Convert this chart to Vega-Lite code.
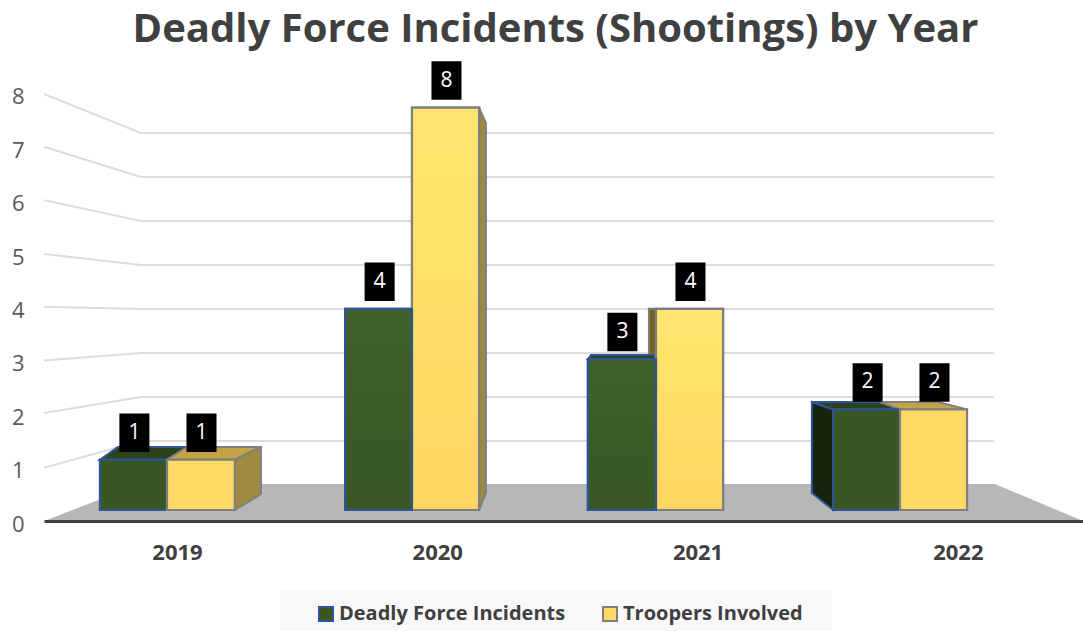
{
"$schema":"https://vega.github.io/schema/vega-lite/v6.json",
"width":1039,"height":461,
"autosize":{"type":"none"},
"padding":{"left":44,"top":60,"right":0,"bottom":110},
"background":"white",
"title":{"text":"Deadly Force Incidents (Shootings) by Year","font":"Open Sans","fontSize":40,"fontWeight":"bold","color":"#404040","anchor":"middle","dx":-8,"offset":10},
"config":{"view":{"stroke":null},"font":"Open Sans"},
"datasets":{
"bars":[
{"year":2019,"series":"Deadly Force Incidents","count":1,"pos":2018.725,"pos2":2019},
{"year":2019,"series":"Troopers Involved","count":1,"pos":2019,"pos2":2019.278},
{"year":2020,"series":"Deadly Force Incidents","count":4,"pos":2019.73,"pos2":2020.004},
{"year":2020,"series":"Troopers Involved","count":8,"pos":2020.004,"pos2":2020.279},
{"year":2021,"series":"Deadly Force Incidents","count":3,"pos":2020.725,"pos2":2021.004},
{"year":2021,"series":"Troopers Involved","count":4,"pos":2021.004,"pos2":2021.279},
{"year":2022,"series":"Deadly Force Incidents","count":2,"pos":2021.73,"pos2":2022.004},
{"year":2022,"series":"Troopers Involved","count":2,"pos":2022.004,"pos2":2022.279}
],
"faces":[
{"id":"e","face":"yellowBack","series":"Troopers Involved","pos":2020.975,"val":4,"val2":3.08},
{"id":"e","face":"yellowBack","series":"Troopers Involved","pos":2021.004,"val":4,"val2":3},
{"id":"a","face":"greenTop","series":"Deadly Force Incidents","pos":2018.725,"val":1,"val2":1},
{"id":"a","face":"greenTop","series":"Deadly Force Incidents","pos":2018.799,"val":1.252,"val2":1},
{"id":"a","face":"greenTop","series":"Deadly Force Incidents","pos":2019,"val":1.252,"val2":1},
{"id":"a","face":"greenTop","series":"Deadly Force Incidents","pos":2019.082,"val":1.252,"val2":1.252},
{"id":"b","face":"yellowTop","series":"Troopers Involved","pos":2019,"val":1,"val2":1},
{"id":"b","face":"yellowTop","series":"Troopers Involved","pos":2019.082,"val":1.252,"val2":1},
{"id":"b","face":"yellowTop","series":"Troopers Involved","pos":2019.278,"val":1.252,"val2":1},
{"id":"b","face":"yellowTop","series":"Troopers Involved","pos":2019.385,"val":1.252,"val2":1.252},
{"id":"c","face":"yellowSide","series":"Troopers Involved","pos":2019.278,"val":1,"val2":0},
{"id":"c","face":"yellowSide","series":"Troopers Involved","pos":2019.385,"val":1.252,"val2":0.318},
{"id":"d","face":"yellowSide","series":"Troopers Involved","pos":2020.279,"val":8,"val2":0},
{"id":"d","face":"yellowSide","series":"Troopers Involved","pos":2020.307,"val":7.694,"val2":0.338},
{"id":"f","face":"greenTop","series":"Deadly Force Incidents","pos":2020.725,"val":3,"val2":3},
{"id":"f","face":"greenTop","series":"Deadly Force Incidents","pos":2020.738,"val":3.08,"val2":3},
{"id":"f","face":"greenTop","series":"Deadly Force Incidents","pos":2020.996,"val":3.08,"val2":3},
{"id":"f","face":"greenTop","series":"Deadly Force Incidents","pos":2021.004,"val":3,"val2":3},
{"id":"g","face":"greenSide","series":"Deadly Force Incidents","pos":2021.643,"val":2.147,"val2":0.338},
{"id":"g","face":"greenSide","series":"Deadly Force Incidents","pos":2021.73,"val":2,"val2":0},
{"id":"h","face":"greenTop","series":"Deadly Force Incidents","pos":2021.643,"val":2.147,"val2":2.147},
{"id":"h","face":"greenTop","series":"Deadly Force Incidents","pos":2021.73,"val":2.147,"val2":2},
{"id":"h","face":"greenTop","series":"Deadly Force Incidents","pos":2021.922,"val":2.147,"val2":2},
{"id":"h","face":"greenTop","series":"Deadly Force Incidents","pos":2022.004,"val":2,"val2":2},
{"id":"i","face":"yellowTop","series":"Troopers Involved","pos":2021.922,"val":2.147,"val2":2.147},
{"id":"i","face":"yellowTop","series":"Troopers Involved","pos":2022.004,"val":2.147,"val2":2},
{"id":"i","face":"yellowTop","series":"Troopers Involved","pos":2022.16,"val":2.147,"val2":2},
{"id":"i","face":"yellowTop","series":"Troopers Involved","pos":2022.279,"val":2,"val2":2}
],
"grid":[
{"level":8,"pos":2018.496,"val":8.27},{"level":8,"pos":2018.893,"val":7.495},{"level":8,"pos":2022.389,"val":7.495},
{"level":7,"pos":2018.496,"val":7.22},{"level":7,"pos":2018.893,"val":6.62},{"level":7,"pos":2022.389,"val":6.62},
{"level":6,"pos":2018.496,"val":6.16},{"level":6,"pos":2018.893,"val":5.745},{"level":6,"pos":2022.389,"val":5.745},
{"level":5,"pos":2018.496,"val":5.09},{"level":5,"pos":2018.893,"val":4.87},{"level":5,"pos":2022.389,"val":4.87},
{"level":4,"pos":2018.496,"val":4.04},{"level":4,"pos":2018.893,"val":3.995},{"level":4,"pos":2022.389,"val":3.995},
{"level":3,"pos":2018.496,"val":2.97},{"level":3,"pos":2018.893,"val":3.12},{"level":3,"pos":2022.389,"val":3.12},
{"level":2,"pos":2018.496,"val":1.93},{"level":2,"pos":2018.893,"val":2.245},{"level":2,"pos":2022.389,"val":2.245},
{"level":1,"pos":2018.496,"val":0.84},{"level":1,"pos":2018.893,"val":1.37},{"level":1,"pos":2022.389,"val":1.37}
],
"floor":[
{"pos":2018.496,"val":-0.2187,"val2":-0.2187},
{"pos":2018.889,"val":0.517,"val2":-0.2187},
{"pos":2022.393,"val":0.517,"val2":-0.2187},
{"pos":2022.754,"val":-0.2187,"val2":-0.2187}
],
"panel":[{"pos":2019.463,"pos2":2021.725,"val":-1.59,"val2":-2.406}],
"ticks":[
{"year":2019,"level":0},{"year":2020,"level":1},{"year":2021,"level":2},{"year":2022,"level":3},
{"year":2019,"level":4},{"year":2020,"level":5},{"year":2021,"level":6},{"year":2022,"level":7},{"year":2022,"level":8}
]
},
"resolve":{"scale":{"x":"independent","y":"independent"}},
"layer":[
{
"data":{"name":"ticks"},
"mark":{"type":"point","opacity":0},
"encoding":{
"x":{"field":"year","type":"quantitative","scale":{"domain":[2018.489,2022.481],"nice":false,"zero":false},
"axis":{"title":null,"values":[2019,2020,2021,2022],"format":"d","grid":false,"ticks":false,"domainColor":"#404040","domainWidth":3,"labelFont":"Open Sans","labelFontWeight":"bold","labelFontSize":22,"labelColor":"#404040","labelPadding":21,"zindex":1}},
"y":{"field":"level","type":"quantitative","scale":{"domain":[0,8.633],"nice":false,"zero":false},
"axis":{"title":null,"values":[0,1,2,3,4,5,6,7,8],"format":"d","grid":false,"ticks":false,"domain":false,"labelFont":"Open Sans","labelFontSize":22,"labelColor":"#595959","labelPadding":20,"labelOffset":3}}
}
},
{
"encoding":{
"x":{"field":"pos","type":"quantitative","scale":{"domain":[2018.4959,2022.7541],"nice":false,"zero":false},"axis":null},
"y":{"field":"val","type":"quantitative","scale":{"domain":[-0.2187,8.946],"nice":false,"zero":false},"axis":null}
},
"layer":[
{"data":{"name":"panel"},"mark":{"type":"rect","color":"#f8f8f8"},"encoding":{"x2":{"field":"pos2"},"y2":{"field":"val2"}}},
{"data":{"name":"floor"},"mark":{"type":"area","color":"#b7b7b7"},"encoding":{"y2":{"field":"val2"}}},
{"data":{"name":"grid"},"mark":{"type":"line","color":"#dcdcdc","strokeWidth":2},"encoding":{"detail":{"field":"level"}}},
{"data":{"name":"faces"},"mark":{"type":"area","strokeWidth":2},
"encoding":{"y2":{"field":"val2"},"detail":{"field":"id"},
"color":{"field":"face","type":"nominal","legend":null,"scale":{"domain":["greenTop","yellowTop","yellowSide","yellowBack","greenSide"],"range":["#2b421b","#c4a347","#a08a3f","#7a6128","#16240e"]}},
"stroke":{"field":"series","type":"nominal","scale":{"domain":["Deadly Force Incidents","Troopers Involved"],"range":["#2f5597","#7f7f7f"]}}}},
{"data":{"name":"bars"},"mark":{"type":"rect","strokeWidth":2.2},
"encoding":{"x2":{"field":"pos2"},"y":{"field":"count","type":"quantitative"},"y2":{"datum":0},
"fill":{"field":"series","type":"nominal","scale":{"domain":["Deadly Force Incidents","Troopers Involved"],"range":["#385723","#ffd966"]},
"legend":{"title":null,"orient":"none","legendX":272,"legendY":544,"direction":"horizontal","columns":2,"padding":0,"symbolType":"square","symbolSize":196,"symbolStrokeWidth":2,"labelFont":"Open Sans","labelFontWeight":"bold","labelFontSize":20,"labelColor":"#404040","labelOffset":3,"labelLimit":300,"columnPadding":33}},
"stroke":{"field":"series","type":"nominal","scale":{"domain":["Deadly Force Incidents","Troopers Involved"],"range":["#2f5597","#7f7f7f"]},
"legend":{"title":null,"orient":"none","legendX":272,"legendY":544,"direction":"horizontal","columns":2,"padding":0,"symbolType":"square","symbolSize":196,"symbolStrokeWidth":2,"labelFont":"Open Sans","labelFontWeight":"bold","labelFontSize":20,"labelColor":"#404040","labelOffset":3,"labelLimit":300,"columnPadding":33}}}},
{"data":{"name":"bars"},"transform":[{"filter":"datum.count>=3 && datum.series=='Troopers Involved'"}],
"mark":{"type":"rect","strokeWidth":2.2,"stroke":"#7f7f7f","fill":{"gradient":"linear","x1":0,"y1":0,"x2":0,"y2":1,"stops":[{"offset":0,"color":"#ffe670"},{"offset":1,"color":"#ffd661"}]}},
"encoding":{"x2":{"field":"pos2"},"y":{"field":"count","type":"quantitative"},"y2":{"datum":0}}},
{"data":{"name":"bars"},"transform":[{"filter":"datum.count>=3 && datum.series=='Deadly Force Incidents'"}],
"mark":{"type":"rect","strokeWidth":2.2,"stroke":"#2f5597","fill":{"gradient":"linear","x1":0,"y1":0,"x2":0,"y2":1,"stops":[{"offset":0,"color":"#40612a"},{"offset":1,"color":"#385723"}]}},
"encoding":{"x2":{"field":"pos2"},"y":{"field":"count","type":"quantitative"},"y2":{"datum":0}}},
{"data":{"name":"bars"},"mark":{"type":"point","filled":true,"color":"#000000","opacity":1,"size":1482,"shape":"M-0.78,-1H0.78V1H-0.78Z","xOffset":34.5,"yOffset":-27},
"encoding":{"y":{"field":"count","type":"quantitative"}}},
{"data":{"name":"bars"},"mark":{"type":"text","color":"#ffffff","fontSize":21,"font":"Open Sans","xOffset":34.5,"yOffset":-27,"align":"center","baseline":"middle"},
"encoding":{"y":{"field":"count","type":"quantitative"},"text":{"field":"count","type":"quantitative"}}}
]
}
]
}
